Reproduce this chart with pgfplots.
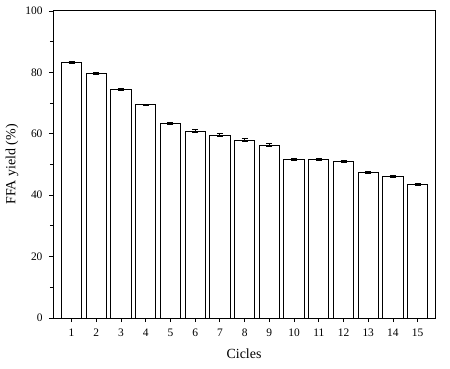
\documentclass[border=0pt]{standalone}
\usepackage{pgfplots}
\pgfplotsset{compat=1.18}
\usepackage{fontspec}
\setmainfont{Liberation Serif}
\begin{document}
\begin{tikzpicture}
\begin{axis}[
  scale only axis,
  width=382bp, height=307bp,
  ybar, bar width=0.82,
  xmin=0.25, xmax=15.7,
  ymin=0, ymax=100,
  xtick={1,...,15},
  ytick={0,20,40,60,80,100},
  minor y tick num=1,
  tick align=outside,
  xtick pos=bottom, ytick pos=left,
  major tick length=4bp, minor tick length=3bp,
  tick style={black, line width=0.9pt},
  axis line style={black, line width=1pt},
  ticklabel style={font=\fontsize{11.5}{13}\selectfont},
  xticklabel style={yshift=-3bp},
  yticklabel style={xshift=-3bp},
  /pgf/number format/assume math mode=true,
  xlabel={Cicles}, ylabel={FFA yield (\%)},
  label style={font=\fontsize{14}{16}\selectfont},
  xlabel style={yshift=-6bp},
  ylabel style={yshift=0bp},
]
\addplot[draw=black, fill=white, line width=1pt,
  error bars/.cd, y dir=both, y explicit,
  error bar style={line width=1pt, black},
  error mark options={rotate=90, mark size=3bp, line width=1pt}]
coordinates {
(1,83.3) +- (0,0.4)
(2,79.7) +- (0,0.4)
(3,74.5) +- (0,0.3)
(4,69.4) +- (0,0.3)
(5,63.4) +- (0,0.4)
(6,60.9) +- (0,0.4)
(7,59.6) +- (0,0.4)
(8,57.9) +- (0,0.5)
(9,56.3) +- (0,0.5)
(10,51.5) +- (0,0.3)
(11,51.5) +- (0,0.3)
(12,51.1) +- (0,0.3)
(13,47.3) +- (0,0.3)
(14,46.0) +- (0,0.3)
(15,43.4) +- (0,0.3)
};
\end{axis}
\path ([shift={(-53bp,-51bp)}]current axis.south west) rectangle ([shift={(15bp,11bp)}]current axis.north east);
\end{tikzpicture}
\end{document}
